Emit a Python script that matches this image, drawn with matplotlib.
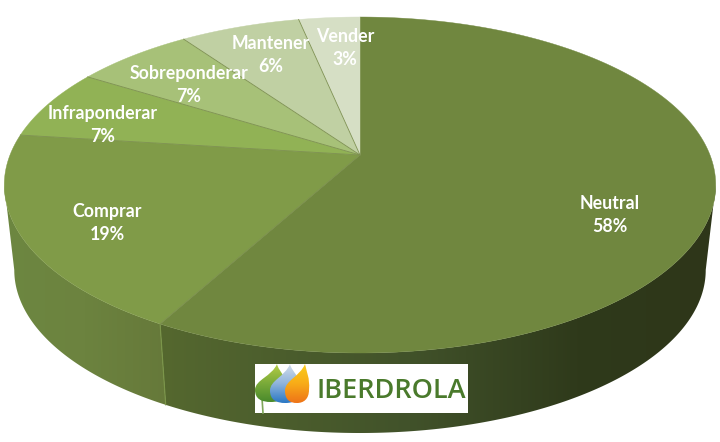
import numpy as np
import matplotlib
matplotlib.use("Agg")
import matplotlib.pyplot as plt
from matplotlib.path import Path
from matplotlib.patches import PathPatch, Polygon, Rectangle
from matplotlib.colors import LinearSegmentedColormap

# chart values, shares read from slice edges, printed percent from the labels
labels = ["Neutral", "Comprar", "Infraponderar", "Sobreponderar", "Mantener", "Vender"]
shares = [58, 19, 6.8, 6.4, 6.5, 3.3]
percents = [58, 19, 7, 7, 6, 3]

colors = ["#70873f", "#809b48", "#91b255", "#a7c178", "#c0d0a3", "#d6dfc5"]
label_xy = [(610, 215), (107, 223), (103, 125), (189, 85), (271, 55), (345, 48)]

# picture geometry, pie is a tilted disc so the centre is not the ellipse centre
cx, apex_y, half_w = 360., 155., 350.
persp = 0.1786
tilt = -134.96
top_cy, top_ry, low_cy, low_ry = 185., 168., 270., 163.
x_scale = 346./356.


def rim(frac):
	th = 2*np.pi*np.asarray(frac)
	u, v = np.sin(th), np.cos(th)
	w = 1 + persp*v
	return cx + half_w*u/w, (tilt*v + apex_y)/w


def low(x, y):
	return cx + (x-cx)*x_scale, low_cy + (y-top_cy)*low_ry/top_ry


def shade(ax, clip, extent, stops, horizontal=True):
	cmap = LinearSegmentedColormap.from_list("g", stops)
	grad = np.linspace(0, 1, 256)
	grad = grad[None, :] if horizontal else grad[:, None]
	im = ax.imshow(grad, cmap=cmap, extent=extent, aspect="auto", zorder=clip.get_zorder(), interpolation="bilinear")
	im.set_clip_path(clip)


fig = plt.figure(figsize=(7.2, 4.42), dpi=100)
ax = fig.add_axes([0, 0, 1, 1])
ax.set_xlim(0, 720)
ax.set_ylim(442, 0)
ax.axis("off")

edges = np.cumsum([0] + shares)/np.sum(shares)

# side wall, widest points of the rim are a bit below the apex
side_stops = [
	[(0.00, "#6d8741"), (0.50, "#6c833f"), (1.00, "#66793a")],
	[(0.00, "#55682f"), (0.45, "#41522a"), (0.75, "#2f3a1b"), (1.00, "#2e3619")],
]
f_right = 0.2786
f_left = 0.7214
parts = [(edges[1], f_left), (f_right, edges[1])]
for (f0, f1), stops in zip(parts, side_stops):
	t = np.linspace(f0, f1, 200)
	x, y = rim(t)
	lx, ly = low(x, y)
	pts = np.column_stack([np.r_[x, lx[::-1]], np.r_[y, ly[::-1]]])
	poly = Polygon(pts, closed=True, fc="none", ec="none", transform=ax.transData, zorder=1)
	ax.add_patch(poly)
	shade(ax, poly, [pts[:, 0].min(), pts[:, 0].max(), 442, 0], stops)

# lighter seam between the two wall pieces
sx, sy = rim(edges[1])
lx, ly = low(sx, sy)
ax.plot([sx, lx], [sy, ly], color="#7b9649", lw=0.8, zorder=2)

# top face
for i in range(len(shares)):
	t = np.linspace(edges[i], edges[i+1], 200)
	x, y = rim(t)
	pts = np.column_stack([np.r_[cx, x], np.r_[apex_y, y]])
	ax.add_patch(Polygon(pts, closed=True, fc=colors[i], ec=colors[i], lw=0.3, zorder=3))
	# thin dark line on slice borders
	if i > 0:
		ax.plot([cx, x[0]], [apex_y, y[0]], color="#7d9050", lw=0.6, zorder=4)

# labels
for lab, val, xy in zip(labels, percents, label_xy):
	ax.text(xy[0], xy[1], f"{lab}\n{val}%", ha="center", va="center", color="white",
		fontsize=12.8, fontweight="bold", family="Lato", linespacing=1.42, zorder=6)

# logo
ax.add_patch(Rectangle((255, 364), 213, 49, fc="white", ec="none", zorder=7))
ax.plot([262, 263], [398, 413], color="#7fa65a", lw=1.2, zorder=8)


def drop(tip, left, right, bottom, stops, zorder):
	tx, ty = tip
	mid = (left+right)/2
	h = bottom-ty
	verts = [(tx, ty),
		(tx+1.5, ty+h*0.2), (right+1, ty+h*0.35), (right, ty+h*0.66),
		(right, ty+h*0.9), (mid+(right-mid)*0.55, bottom), (mid, bottom),
		(mid-(mid-left)*0.6, bottom), (left, ty+h*0.92), (left, ty+h*0.68),
		(left, ty+h*0.42), (tx-5, ty+h*0.32), (tx, ty)]
	codes = [Path.MOVETO] + [Path.CURVE4]*12
	patch = PathPatch(Path(verts, codes), fc="none", ec="none", zorder=zorder)
	ax.add_patch(patch)
	cmap = LinearSegmentedColormap.from_list("d", stops)
	grad = np.linspace(0, 1, 64)[:, None]
	im = ax.imshow(grad, cmap=cmap, extent=[left, right+1, bottom, ty], aspect="auto", zorder=zorder)
	im.set_clip_path(patch)


drop((277, 364), 255, 287, 402, ["#b4cc45", "#7bab3a", "#4a8a2c"], 8)
drop((290, 364), 270, 301, 403, ["#d2dcea", "#8fb4dc", "#2b78c4"], 9)
drop((305, 364), 285, 309, 403, ["#f9cc1c", "#f8ac18", "#ee7418"], 10)

ax.text(391.5, 391, "IBERDROLA", ha="center", va="center", color="#4a7a2c", fontsize=19.5,
	family="Open Sans", fontweight="semibold", zorder=8)

ax.set_xlim(0, 720)
ax.set_ylim(442, 0)
plt.savefig("out.png", dpi=100)
